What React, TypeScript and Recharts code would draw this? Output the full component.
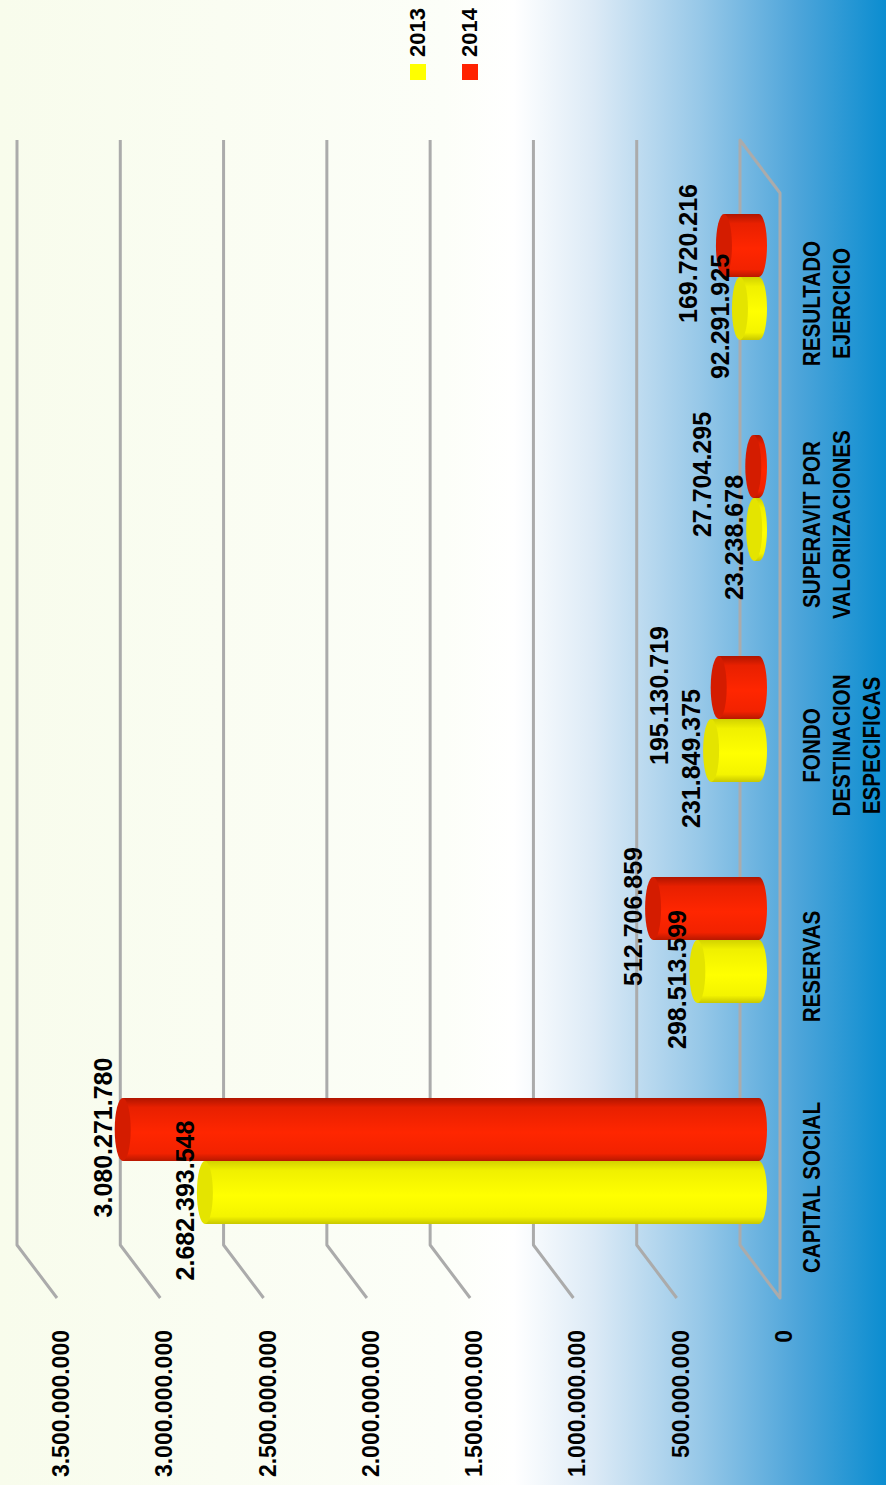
import React from "react";
import {
  BarChart,
  Bar,
  XAxis,
  YAxis,
  CartesianGrid,
  Legend,
  LabelList,
} from "recharts";

const categories = [
  "CAPITAL SOCIAL",
  "RESERVAS",
  "FONDO\nDESTINACION\nESPECIFICAS",
  "SUPERAVIT POR\nVALORIIZACIONES",
  "RESULTADO\nEJERCICIO",
];
const values2013 = [2682393548, 298513599, 231849375, 23238678, 92291925];
const values2014 = [3080271780, 512706859, 195130719, 27704295, 169720216];
const valueTicks = [
  0, 500000000, 1000000000, 1500000000, 2000000000, 2500000000, 3000000000,
  3500000000,
];

const rows = categories.map((name, i) => ({
  name,
  y2013: values2013[i],
  y2014: values2014[i],
}));

// chart is laid out landscape, then turned a quarter left to fit the page
const W = 1485;
const H = 886;
const FONT = '"Liberation Sans", Arial, sans-serif';
const CAP = 8; // half-height of the cylinder end caps

function dots(v: number) {
  return Math.round(v)
    .toString()
    .replace(/\B(?=(\d{3})+(?!\d))/g, ".");
}

function Cylinder(props: any) {
  const { x, y, width: w, height: h, gradId, capFill } = props;
  if (w == null || h == null || isNaN(x) || isNaN(y)) return null;
  const rx = w / 2;
  const body = `M${x},${y} L${x},${y + h} A${rx},${CAP} 0 0 0 ${x + w},${y + h} L${x + w},${y} Z`;
  return (
    <g>
      <path d={body} fill={`url(#${gradId})`} />
      <ellipse cx={x + rx} cy={y} rx={rx} ry={CAP} fill={capFill} />
    </g>
  );
}

function label2013(p: any) {
  const { x, y, width, value } = p;
  return (
    <text
      x={x + width / 2 - 8}
      y={y - CAP - 3}
      textAnchor="middle"
      fontFamily={FONT}
      fontWeight="bold"
      fontSize={25}
      fill="#000"
    >
      {dots(value)}
    </text>
  );
}

// red labels get lifted when they would run into the yellow label beside them
function label2014(p: any) {
  const { x, y, width, height, value, index } = p;
  let base = y - CAP - 3;
  if (value > 0 && height > 0 && index != null) {
    const px = height / value;
    const bottom = y + height;
    const yellowTop = bottom - values2013[index] * px;
    const yellowLabelTop = yellowTop - CAP - 3 - 18;
    base = Math.min(base, yellowLabelTop - 14);
  }
  return (
    <text
      x={x + width / 2 - 8}
      y={base}
      textAnchor="middle"
      fontFamily={FONT}
      fontWeight="bold"
      fontSize={25}
      fill="#000"
    >
      {dots(value)}
    </text>
  );
}

function gridLine(p: any) {
  const { x1, x2, y1, key } = p;
  const yb = y1 - 19;
  const a = x1 + 27;
  const b = x2 + 27;
  const floor =
    p.y != null && p.height != null && Math.abs(y1 - (p.y + p.height)) < 0.5;
  const d = floor
    ? `M${a - 53},${yb + 40} L${a},${yb} L${b},${yb} L${b - 53},${yb + 40} Z`
    : `M${a - 53},${yb + 40} L${a},${yb} L${b},${yb}`;
  return (
    <path
      key={key}
      d={d}
      fill="none"
      stroke="#ababab"
      strokeWidth={3}
      strokeLinejoin="round"
    />
  );
}

function ValueTick(props: any) {
  const { x, y, payload } = props;
  return (
    <text
      x={x}
      y={y + 25}
      textAnchor="end"
      dominantBaseline="central"
      fontFamily={FONT}
      fontWeight="bold"
      fontSize={23}
      fill="#000"
    >
      {dots(payload.value)}
    </text>
  );
}

// category names are set condensed, like the narrow face of the original
function CategoryTick(props: any) {
  const { x, y, payload } = props;
  const lines = String(payload.value).split("\n");
  const cx = x - 26;
  return (
    <text
      x={cx}
      y={y}
      textAnchor="middle"
      fontFamily={FONT}
      fontWeight="bold"
      fontSize={24}
      fill="#000"
      transform={`translate(${cx},0) scale(0.86,1) translate(${-cx},0)`}
    >
      {lines.map((l, i) => (
        <tspan key={i} x={cx} y={y + 53 + i * 30} dominantBaseline="central">
          {l}
        </tspan>
      ))}
    </text>
  );
}

function legendContent(props: any) {
  const items = props.payload || [];
  return (
    <div style={{ fontFamily: FONT }}>
      {items.map((it: any) => (
        <div
          key={it.value}
          style={{ display: "flex", alignItems: "center", height: 52 }}
        >
          <div
            style={{
              width: 16,
              height: 16,
              background: it.color,
              marginRight: 7,
            }}
          />
          <span style={{ fontWeight: "bold", fontSize: 22, color: "#000" }}>
            {it.value}
          </span>
        </div>
      ))}
    </div>
  );
}

export default function App() {
  return (
    <div
      style={{
        position: "absolute",
        left: 0,
        top: 0,
        width: H,
        height: W,
        overflow: "hidden",
        background:
          "linear-gradient(to right, #f8fcec 0%, #fcfef8 50%, #ffffff 58%, #dceaf6 67%, #97c8e8 79%, #4ea5da 90%, #0b8dd0 100%)",
      }}
    >
      <div
        style={{
          position: "absolute",
          left: 0,
          top: 0,
          width: W,
          height: H,
          transformOrigin: "0 0",
          transform: `translateY(${W}px) rotate(-90deg)`,
        }}
      >
        <BarChart
          width={W}
          height={H}
          data={rows}
          margin={{ top: 36, right: 167, bottom: 27, left: 0 }}
          barGap={0}
        >
          <defs>
            <linearGradient id="g13" x1="0" y1="0" x2="1" y2="0">
              <stop offset="0%" stopColor="#c8c800" />
              <stop offset="12%" stopColor="#f4f400" />
              <stop offset="45%" stopColor="#ffff00" />
              <stop offset="85%" stopColor="#f0f000" />
              <stop offset="100%" stopColor="#d2d200" />
            </linearGradient>
            <linearGradient id="g14" x1="0" y1="0" x2="1" y2="0">
              <stop offset="0%" stopColor="#b81800" />
              <stop offset="12%" stopColor="#f22200" />
              <stop offset="45%" stopColor="#ff2600" />
              <stop offset="85%" stopColor="#e82000" />
              <stop offset="100%" stopColor="#b01500" />
            </linearGradient>
          </defs>
          <CartesianGrid vertical={false} horizontal={gridLine} />
          <XAxis
            dataKey="name"
            axisLine={false}
            tickLine={false}
            tickSize={0}
            tickMargin={0}
            height={100}
            interval={0}
            tick={<CategoryTick />}
          />
          <YAxis
            type="number"
            domain={[0, 3500000000]}
            ticks={valueTicks}
            axisLine={false}
            tickLine={false}
            tickSize={0}
            tickMargin={58}
            width={213}
            tick={<ValueTick />}
          />
          <Legend
            layout="vertical"
            align="center"
            verticalAlign="middle"
            wrapperStyle={{ left: 1405, top: 392, width: 80 }}
            content={legendContent}
          />
          <Bar
            dataKey="y2013"
            name="2013"
            fill="#ffff00"
            barSize={63}
            isAnimationActive={false}
            shape={(p: any) => (
              <Cylinder {...p} gradId="g13" capFill="#e4e400" />
            )}
          >
            <LabelList dataKey="y2013" content={label2013} />
          </Bar>
          <Bar
            dataKey="y2014"
            name="2014"
            fill="#ff2200"
            barSize={63}
            isAnimationActive={false}
            shape={(p: any) => (
              <Cylinder {...p} gradId="g14" capFill="#d41c00" />
            )}
          >
            <LabelList dataKey="y2014" content={label2014} />
          </Bar>
        </BarChart>
      </div>
    </div>
  );
}
